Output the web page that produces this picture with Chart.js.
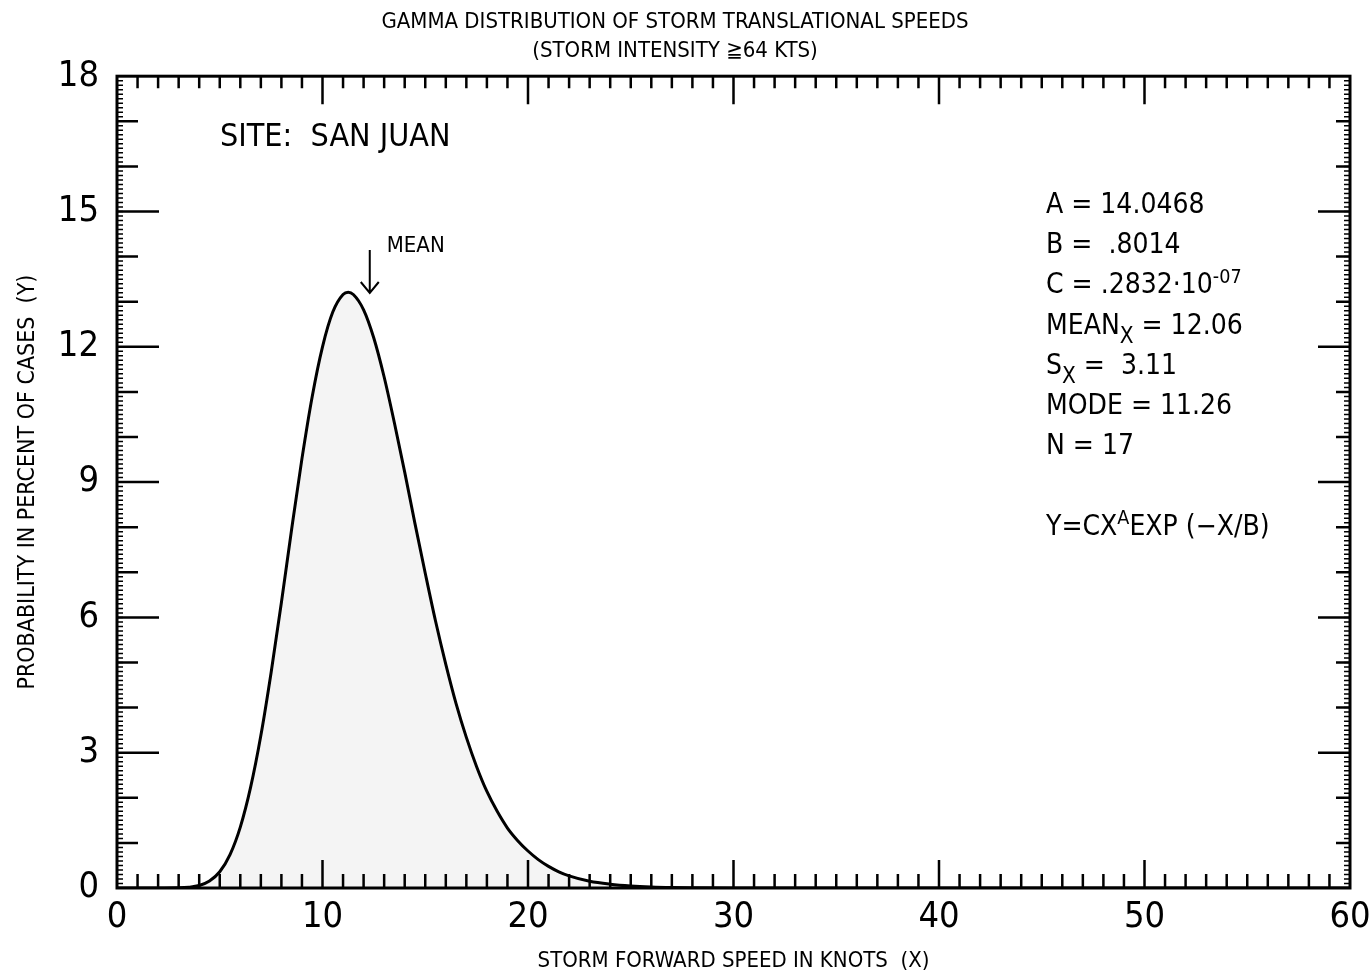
<!DOCTYPE html>
<html>
<head>
<meta charset="utf-8">
<script src="https://cdn.jsdelivr.net/npm/chart.js@4.4.1/dist/chart.umd.min.js"></script>
<style>
  html, body { margin: 0; padding: 0; background: #fff; }
  #wrap { width: 1370px; height: 976px; }
</style>
</head>
<body>
<div id="wrap"><canvas id="myChart" width="1370" height="976"></canvas></div>
<script>
// storm forward speed (knots) and probability in percent of cases
const speedKnots = [0, 1, 2, 3, 3.5, 4, 4.5, 5, 5.5, 6, 6.5, 7, 7.5, 8, 8.5, 9, 9.5, 10, 10.5, 11, 11.25, 11.5, 12, 12.5, 13, 13.5, 14, 14.5, 15, 15.5, 16, 16.5, 17, 17.5, 18, 18.5, 19, 19.5, 20, 20.5, 21, 21.5, 22, 23, 24, 25, 26, 27, 28, 30, 40, 60];
const probPercent = [0, 0, 0, 0.003, 0.016, 0.055, 0.155, 0.36, 0.74, 1.35, 2.23, 3.38, 4.78, 6.33, 7.96, 9.52, 10.9, 12.0, 12.77, 13.16, 13.21, 13.16, 12.82, 12.19, 11.33, 10.31, 9.22, 8.08, 6.98, 5.92, 4.96, 4.09, 3.34, 2.69, 2.14, 1.70, 1.33, 1.05, 0.82, 0.63, 0.48, 0.36, 0.27, 0.15, 0.085, 0.045, 0.022, 0.01, 0.005, 0.001, 0, 0];

const xTickLabels = [0, 10, 20, 30, 40, 50, 60];
const yTickLabels = [0, 3, 6, 9, 12, 15, 18];

const statLines = [
  [['A = 14.0468']],
  [['B =  .8014']],
  [['C = .2832\u00b710'], ['-07', 'sup']],
  [['MEAN'], ['X', 'sub'], [' = 12.06']],
  [['S'], ['X', 'sub'], [' =  3.11']],
  [['MODE = 11.26']],
  [['N = 17']],
  null,
  [['Y=CX'], ['A', 'sup'], ['EXP (\u2212X/B)']]
];
const meanMarkX = 12.3;

const FONT = '"Liberation Sans Narrow", "DejaVu Sans Condensed", "Roboto Condensed", sans-serif';

function drawRuns(ctx, x, y, runs, size) {
  runs.forEach((r) => {
    let s = size, dy = 0;
    if (r[1] === 'sup') { s = size * 0.7; dy = -size * 0.38; }
    if (r[1] === 'sub') { s = size * 0.8; dy = size * 0.32; }
    ctx.font = s + 'px ' + FONT;
    ctx.fillText(r[0], x, y + dy);
    x += ctx.measureText(r[0]).width;
  });
}

const framePlugin = {
  id: 'frame',
  afterDatasetsDraw(chart) {
    const ctx = chart.ctx;
    const a = chart.chartArea;
    const xs = chart.scales.x, ys = chart.scales.y;
    ctx.save();
    ctx.strokeStyle = '#000';
    ctx.fillStyle = '#000';

    // frame
    ctx.lineWidth = 3;
    ctx.strokeRect(a.left, a.top, a.right - a.left, a.bottom - a.top);

    // x ticks bottom (up) and top (down)
    ctx.lineWidth = 2.5;
    for (let v = 1; v < 60; v++) {
      const px = xs.getPixelForValue(v);
      const major = v % 10 === 0;
      ctx.beginPath();
      ctx.moveTo(px, a.bottom);
      ctx.lineTo(px, a.bottom - (major ? 28 : 14));
      ctx.moveTo(px, a.top);
      ctx.lineTo(px, a.top + (major ? 28 : 12));
      ctx.stroke();
    }

    // y ticks left and right
    for (let v = 1; v < 18; v++) {
      const py = ys.getPixelForValue(v);
      const major = v % 3 === 0;
      ctx.beginPath();
      ctx.moveTo(a.left, py);
      ctx.lineTo(a.left + (major ? 42 : 21), py);
      ctx.moveTo(a.right, py);
      ctx.lineTo(a.right - (major ? 32 : 14), py);
      ctx.stroke();
    }

    // fine ruler marks along both side axes
    ctx.lineWidth = 1.5;
    for (let i = 1; i < 180; i++) {
      const py = ys.getPixelForValue(i / 10);
      ctx.beginPath();
      ctx.moveTo(a.left, py);
      ctx.lineTo(a.left + 6, py);
      ctx.moveTo(a.right, py);
      ctx.lineTo(a.right - 6, py);
      ctx.stroke();
    }

    // site label
    ctx.textBaseline = 'alphabetic';
    ctx.font = '32px ' + FONT;
    ctx.fillText('SITE:  SAN JUAN', 220, 146);

    // mean marker
    const mx = xs.getPixelForValue(meanMarkX);
    ctx.font = '22px ' + FONT;
    ctx.fillText('MEAN', mx + 17, 252);
    ctx.lineWidth = 2;
    ctx.beginPath();
    ctx.moveTo(mx, 250);
    ctx.lineTo(mx, 293);
    ctx.moveTo(mx - 9, 282);
    ctx.lineTo(mx, 293);
    ctx.lineTo(mx + 9, 282);
    ctx.stroke();

    // fit statistics
    let y = 213;
    statLines.forEach((line) => {
      if (line) drawRuns(ctx, 1046, y, line, 28);
      y += 40.2;
    });
    ctx.restore();
  }
};

const ctx = document.getElementById('myChart').getContext('2d');
const chart = new Chart(ctx, {
  type: 'line',
  data: {
    datasets: [{
      data: speedKnots.map((x, i) => ({ x: x, y: probPercent[i] })),
      borderColor: '#000',
      borderWidth: 3,
      backgroundColor: '#f4f4f4',
      fill: 'origin',
      pointRadius: 0,
      cubicInterpolationMode: 'monotone'
    }]
  },
  plugins: [framePlugin],
  options: {
    responsive: false,
    animation: false,
    devicePixelRatio: 1,
    layout: { padding: { top: 0, left: 0, right: 20, bottom: 0 } },
    plugins: {
      legend: { display: false },
      tooltip: { enabled: false },
      title: {
        display: true,
        text: ['GAMMA DISTRIBUTION OF STORM TRANSLATIONAL SPEEDS', '(STORM INTENSITY \u226764 KTS)'],
        color: '#000',
        font: { family: FONT, size: 22, weight: 'normal', lineHeight: 1.3 },
        padding: { top: 8, bottom: 11 }
      }
    },
    scales: {
      x: {
        type: 'linear',
        min: 0,
        max: 60,
        grid: { display: false, drawTicks: false },
        border: { display: false },
        ticks: {
          stepSize: 10,
          color: '#000',
          padding: 8,
          maxRotation: 0,
          font: { family: FONT, size: 36 },
          callback: (v) => xTickLabels.includes(v) ? String(v) : ''
        },
        title: {
          display: true,
          text: 'STORM FORWARD SPEED IN KNOTS  (X)',
          color: '#000',
          font: { family: FONT, size: 22 },
          padding: { top: 0, bottom: 2 }
        },
        afterFit: (s) => { s.height = 88; s.paddingRight = 0; s.paddingLeft = 0; }
      },
      y: {
        min: 0,
        max: 18,
        grid: { display: false, drawTicks: false },
        border: { display: false },
        ticks: {
          stepSize: 3,
          color: '#000',
          padding: 18,
          font: { family: FONT, size: 36 },
          callback: (v) => yTickLabels.includes(v) ? String(v) : ''
        },
        title: {
          display: true,
          text: 'PROBABILITY IN PERCENT OF CASES  (Y)',
          color: '#000',
          font: { family: FONT, size: 23 },
          padding: { top: 14, bottom: 0 }
        },
        afterFit: (s) => { s.width = 117; s.paddingTop = 0; s.paddingBottom = 0; }
      }
    }
  }
});
</script>
</body>
</html>
